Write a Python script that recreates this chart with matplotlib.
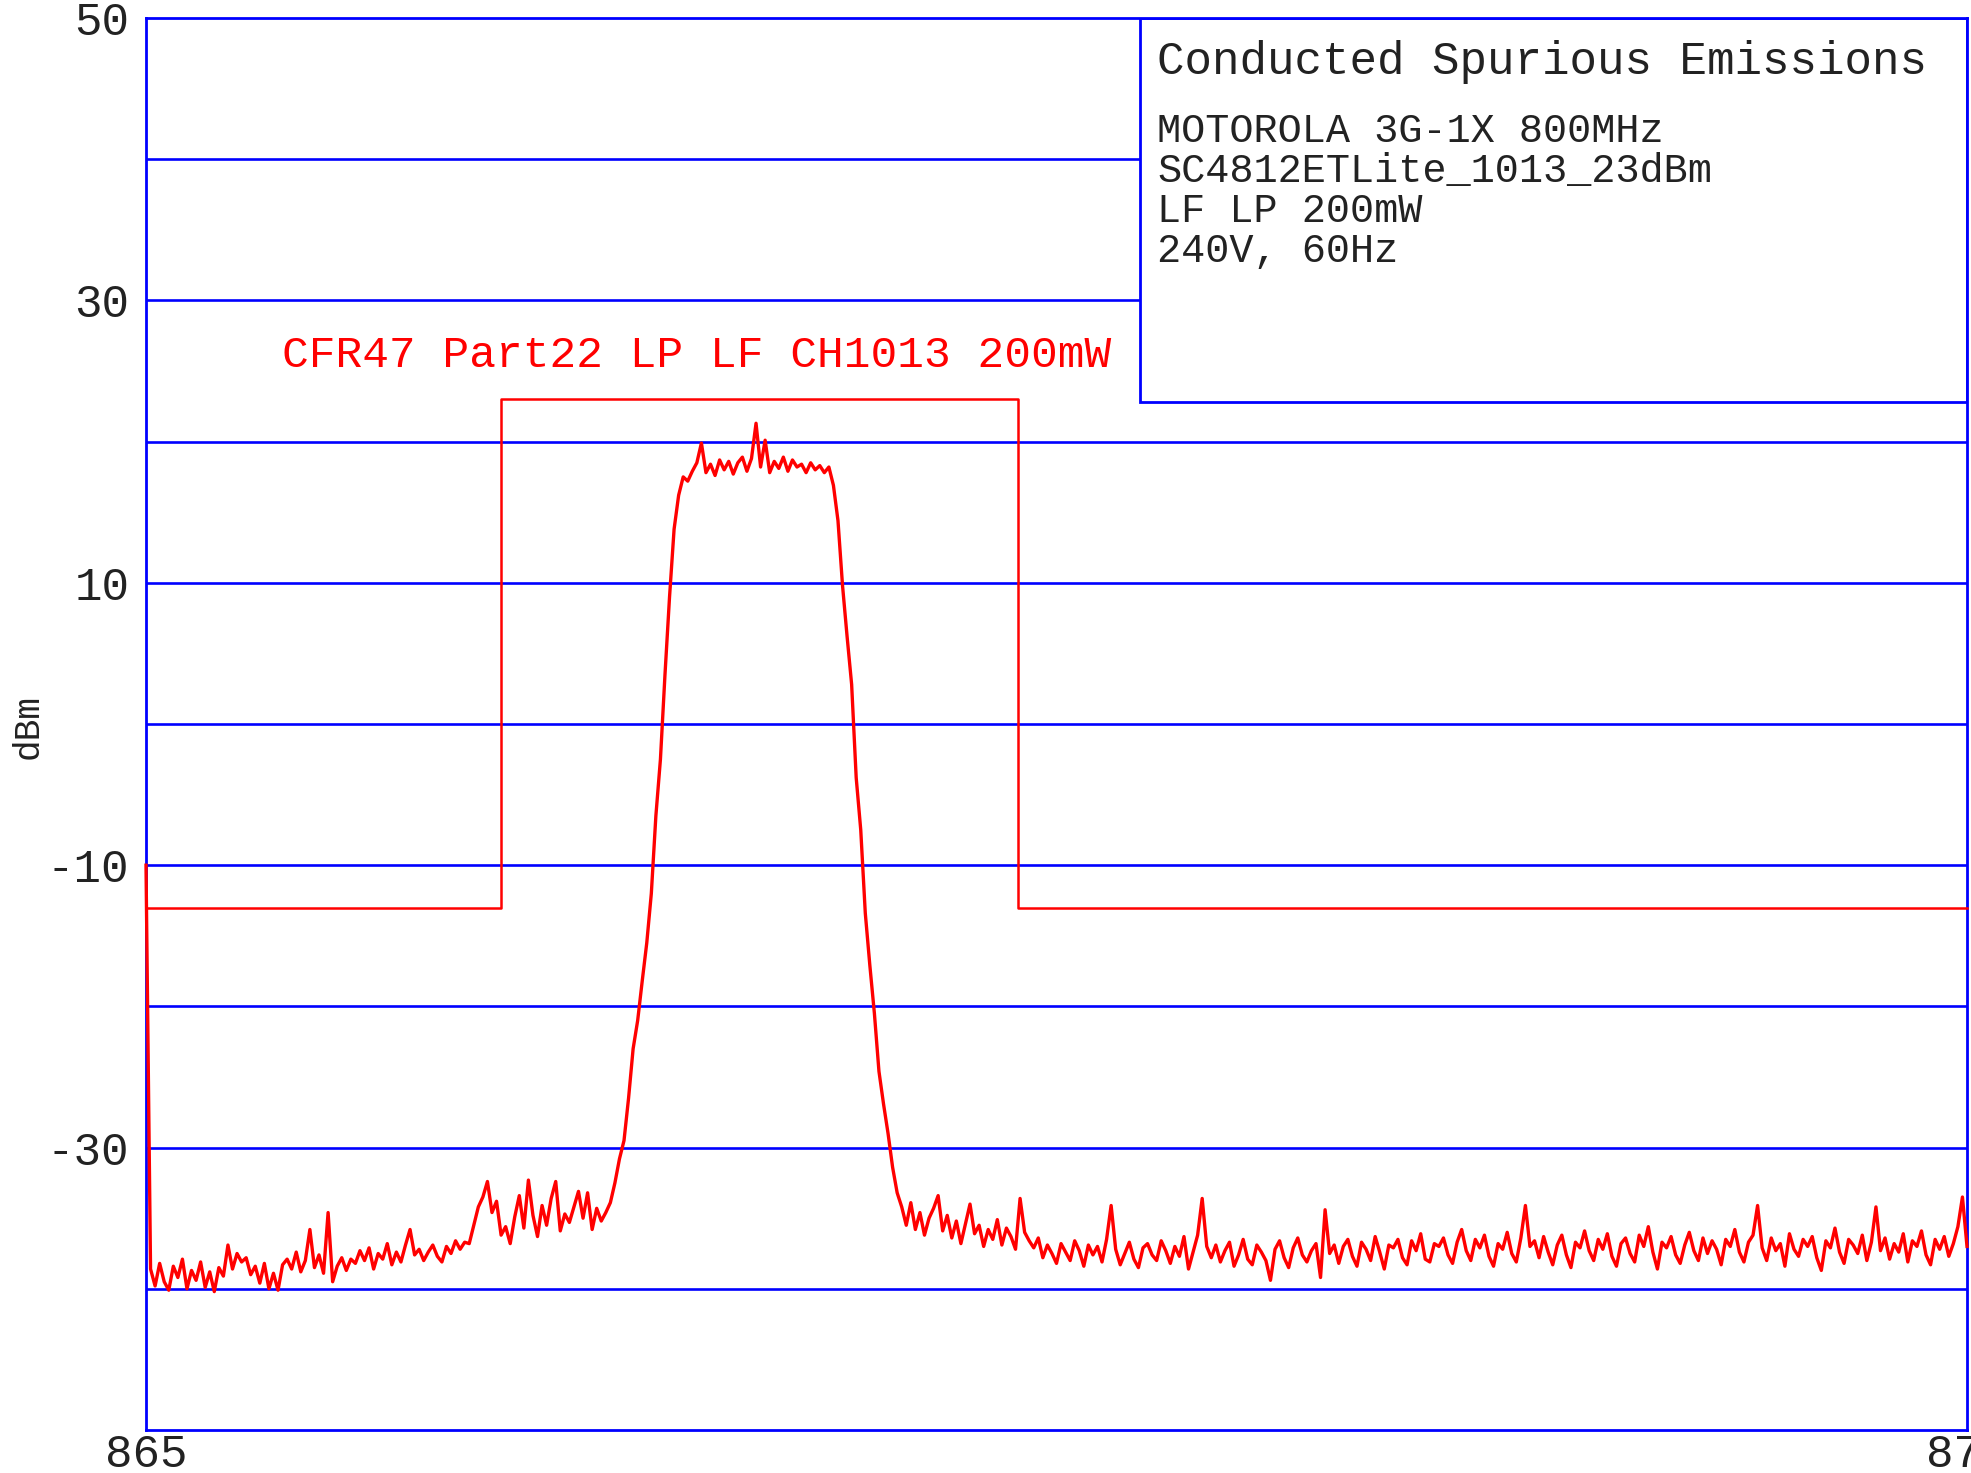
import numpy as np
import matplotlib
matplotlib.use('Agg')
import matplotlib.pyplot as plt
from matplotlib.patches import Rectangle

W, H = 1971, 1473
FONT = ['Liberation Mono', 'DejaVu Sans Mono']
BLUE = '#0000ff'
RED = '#ff0000'

# ---------------- data ----------------
f_start, f_stop = 865.0, 875.0
y_min, y_max = -50, 50
grid_levels = [40, 30, 20, 10, 0, -10, -20, -30, -40]
ytick_values = [50, 30, 10, -10, -30]
ytick_labels = ['50', '30', '10', '-10', '-30']
xtick_values = [865, 875]
xtick_labels = ['865', '875']

mask_freq = [865.0, 866.95, 866.95, 869.79, 869.79, 875.0]
mask_level = [-13, -13, 23, 23, -13, -13]
mask_label = 'CFR47 Part22 LP LF CH1013 200mW'

info_title = 'Conducted Spurious Emissions'
info_lines = ['MOTOROLA 3G-1X 800MHz', 'SC4812ETLite_1013_23dBm', 'LF LP 200mW', '240V, 60Hz']
info_box_freq = 870.46
info_box_bottom = 22.8

trace_floor_low = [
    -10.0,
    -38.6, -39.8, -38.2, -39.5, -40.1, -38.4, -39.2, -37.9, -40.0, -38.7,
    -39.4, -38.1, -39.9, -38.8, -40.2, -38.5, -39.1, -36.9, -38.6,
    -37.5, -38.1, -37.8, -39.0, -38.4, -39.6, -38.2, -40.0, -38.9, -40.1, -38.3,
    -37.9, -38.6, -37.4, -38.8, -38.0, -35.8, -38.5, -37.6, -38.9, -34.6, -39.5, -38.4, -37.8, -38.7, -37.9,
    -38.2, -37.3, -38.0, -37.1, -38.6, -37.5, -37.9, -36.8, -38.3, -37.4, -38.1, -36.9, -35.8, -37.6, -37.2,
    -38.0, -37.4, -36.9, -37.7, -38.1, -37.0, -37.5, -36.6, -37.2, -36.7,
    -36.8, -35.5,
]
trace_shoulder_low = [
    -34.2, -33.5, -32.4, -34.6, -33.8, -36.2, -35.6, -36.8, -34.9, -33.4,
    -35.7, -32.3, -34.8, -36.3, -34.1, -35.5, -33.6, -32.4, -35.9, -34.7,
    -35.3, -34.2, -33.1, -35.0, -33.2, -35.8, -34.3, -35.2, -34.6, -33.9,
]
trace_rise = [
    -32.5, -30.8, -29.5, -26.5, -23.0, -21.0, -18.2, -15.5,
    -12.0, -6.5, -2.5, 3.5, 9.0, 13.8, 16.2, 17.5,
]
trace_plateau = [
    17.2, 17.9, 18.5, 19.9, 17.8, 18.4, 17.6, 18.7, 18.0, 18.6,
    17.7, 18.5, 18.9, 17.9, 18.8, 21.3, 18.2, 20.1, 17.8, 18.6,
    18.1, 18.9, 17.9, 18.7, 18.2, 18.4, 17.8, 18.5, 18.0, 18.3,
    17.8, 18.2,
]
trace_fall = [
    16.9, 14.4, 9.8, 6.2, 2.8, -3.8, -7.5, -13.4,
    -17.1, -20.5, -24.6, -26.9, -29.0, -31.4, -33.2, -34.2,
]
trace_shoulder_high = [
    -35.5, -33.9, -35.8, -34.6, -36.2, -35.0, -34.3, -33.4, -35.9, -34.8,
    -36.4, -35.2, -36.8, -35.4, -34.0, -36.1, -35.5, -37.0, -35.8, -36.5,
    -35.1, -36.9, -35.7, -36.3, -37.2, -33.6, -36.0, -36.6,
]
trace_floor_high = [
    -37.1, -36.4, -37.8, -36.9, -37.5, -38.2, -36.8, -37.4, -38.0, -36.6,
    -37.3, -38.4, -36.9, -37.6, -37.0, -38.1, -36.5, -34.1, -37.2, -38.3,
    -37.5, -36.7, -37.9, -38.5, -37.1, -36.8, -37.6, -38.0, -36.6, -37.3,
    -38.2, -37.0, -37.7, -36.3, -38.6, -37.4, -36.2, -33.6, -37.0, -37.8,
    -36.9, -38.1, -37.3, -36.7, -38.4, -37.6, -36.5, -37.9, -38.3, -36.9,
    -37.4, -38.0, -39.4, -37.2, -36.6, -37.8, -38.5, -37.1, -36.4, -37.6,
    -38.1, -37.3, -36.8, -39.2, -34.4, -37.5, -36.9, -38.2, -37.0, -36.5,
    -37.7, -38.4, -36.7, -37.2, -38.0, -36.3, -37.4, -38.6, -36.9, -37.1,
    -36.5, -37.8, -38.3, -36.6, -37.3, -36.1, -37.9, -38.1, -36.8, -37.0,
    -36.4, -37.6, -38.2, -36.7, -35.8, -37.3, -38.0, -36.5, -37.1, -36.2,
    -37.7, -38.4, -36.8, -37.2, -36.0, -37.5, -38.1, -36.4, -34.1, -37.0,
    -36.6, -37.8, -36.3, -37.4, -38.3, -36.9, -36.2, -37.6, -38.5, -36.7,
    -37.1, -35.9, -37.3, -38.0, -36.5, -37.2, -36.1, -37.7, -38.4, -36.8,
    -36.4, -37.5, -38.1, -36.2, -37.0, -35.6, -37.4, -38.6, -36.7, -37.1,
    -36.3, -37.6, -38.2, -36.9, -36.0, -37.3, -38.0, -36.4, -37.5, -36.6,
    -37.2, -38.3, -36.5, -37.0, -35.8, -37.4, -38.1, -36.7, -36.2, -34.1,
    -37.1, -38.0, -36.4, -37.3, -36.8, -38.4, -36.1, -37.2, -37.7, -36.5,
    -37.0, -36.3, -37.8, -38.7, -36.6, -37.1, -35.7, -37.4, -38.2, -36.5,
    -36.9, -37.5, -36.2, -38.0, -36.7, -34.2, -37.3, -36.4, -37.9, -36.8,
    -37.4, -36.1, -38.1, -36.6, -37.0, -35.9, -37.6, -38.3, -36.5, -37.2,
    -36.3, -37.7, -36.8, -35.6, -33.5, -37.0,
]
trace_dbm = (trace_floor_low + trace_shoulder_low + trace_rise + trace_plateau
             + trace_fall + trace_shoulder_high + trace_floor_high)
freq = np.linspace(f_start, f_stop, len(trace_dbm))

# ---------------- figure ----------------
fig = plt.figure(figsize=(W / 100, H / 100), dpi=100)
fig.patch.set_facecolor('white')

ax_l, ax_t, ax_r, ax_b = 146, 18, 1967, 1430
ax = fig.add_axes([ax_l / W, 1 - ax_b / H, (ax_r - ax_l) / W, (ax_b - ax_t) / H])
ax.set_xlim(f_start, f_stop)
ax.set_ylim(y_min, y_max)

for s in ax.spines.values():
    s.set_color(BLUE)
    s.set_linewidth(2.0)
    s.set_zorder(6)

for lev in grid_levels:
    ax.axhline(lev, color=BLUE, lw=1.9, zorder=1)

ax.set_yticks(ytick_values, labels=ytick_labels)
ax.set_xticks(xtick_values, labels=xtick_labels)
ax.tick_params(axis='both', length=0, labelsize=33, colors='#222222')
ax.tick_params(axis='y', pad=12)
ax.tick_params(axis='x', pad=2)
for lab in ax.get_yticklabels() + ax.get_xticklabels():
    lab.set_family(FONT)

# info box
box = Rectangle((info_box_freq, info_box_bottom), f_stop - info_box_freq, y_max - info_box_bottom,
                facecolor='white', edgecolor=BLUE, lw=2.0, zorder=3)
ax.add_patch(box)

# limit mask and trace (drawn above the spines, as in the reference)
ax.plot(mask_freq, mask_level, color=RED, lw=1.8, zorder=7, clip_on=False)
ax.plot(freq, trace_dbm, color=RED, lw=2.4, zorder=8, clip_on=False)

# texts
def fx(x):
    return x / W

def fy(y):
    return 1 - y / H

fig.text(fx(1157), fy(74), info_title, fontsize=33, family=FONT, color='#222222', va='baseline')
for k, line in enumerate(info_lines):
    fig.text(fx(1157), fy(142 + 40 * k), line, fontsize=29, family=FONT, color='#222222', va='baseline')

fig.text(fx(282), fy(367), mask_label, fontsize=32, family=FONT, color=RED, va='baseline')

fig.text(fx(28), fy(727), 'dBm', fontsize=26, family=FONT, color='#222222',
         rotation=90, ha='center', va='center')

fig.savefig('out.png', dpi=100, facecolor='white')
